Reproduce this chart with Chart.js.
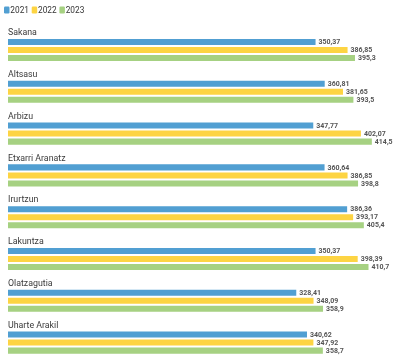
<!DOCTYPE html>
<html><head><meta charset="utf-8">
<script src="https://cdn.jsdelivr.net/npm/chart.js@4"></script>
<style>
html,body{margin:0;padding:0;background:#fff;overflow:hidden;width:403px;height:357px;}
#wrap{position:relative;width:403px;height:366px;}
</style></head>
<body><div id="wrap"><canvas id="c"></canvas></div>
<script>
const categories = ["Sakana","Altsasu","Arbizu","Etxarri Aranatz","Irurtzun","Lakuntza","Olatzagutia","Uharte Arakil"];
const seriesNames = ["2021","2022","2023"];
const values2021 = [350.37,360.81,347.77,360.64,386.36,350.37,328.41,340.62];
const values2022 = [386.85,381.65,402.07,386.85,393.17,398.39,348.09,347.92];
const values2023 = [395.3,393.5,414.5,398.8,405.4,410.7,358.9,358.7];
const colors = ["#519fd2","#fdd443","#a6d182"];
const FONT = "Roboto, 'Noto Sans', sans-serif";

const fmt = v => String(v).replace('.', ',');

const overlay = {
  id:'overlay',
  afterDatasetsDraw(chart){
    const ctx = chart.ctx;
    const ys = chart.scales.y;
    const xs = chart.scales.x;
    ctx.save();
    // category labels
    ctx.font = "8.8px " + FONT;
    ctx.fillStyle = "#3a3a3a";
    ctx.textAlign = "left";
    ctx.textBaseline = "middle";
    categories.forEach((c,i)=>{
      ctx.fillText(c, xs.left, ys.getPixelForValue(i) - 17);
    });
    // value labels
    ctx.font = "bold 7px " + FONT;
    ctx.fillStyle = "#555";
    chart.data.datasets.forEach((ds,di)=>{
      const meta = chart.getDatasetMeta(di);
      meta.data.forEach((bar,i)=>{
        ctx.fillText(fmt(ds.data[i]), bar.x + 3, bar.y + 0.5);
      });
    });
    // legend
    ctx.font = "8.3px " + FONT;
    seriesNames.forEach((n,i)=>{
      const x = 4 + i * 27.7;
      ctx.fillStyle = colors[i];
      ctx.beginPath();
      if (ctx.roundRect) ctx.roundRect(x, 6.5, 5.5, 7, 1.2); else ctx.rect(x,6.5,5.5,7);
      ctx.fill();
      ctx.fillStyle = "#333";
      ctx.fillText(n, x + 6.3, 10.5);
    });
    ctx.restore();
  }
};

new Chart(document.getElementById('c'), {
  type:'bar',
  data:{
    labels: categories,
    datasets:[
      {label:seriesNames[0], data:values2021, backgroundColor:colors[0]},
      {label:seriesNames[1], data:values2022, backgroundColor:colors[1]},
      {label:seriesNames[2], data:values2023, backgroundColor:colors[2]}
    ]
  },
  options:{
    indexAxis:'y',
    responsive:true,
    maintainAspectRatio:false,
    animation:false,
    devicePixelRatio:1,
    categoryPercentage:0.576,
    barPercentage:0.75,
    layout:{padding:{left:8,right:0,top:29.1,bottom:2.5}},
    plugins:{legend:{display:false},tooltip:{enabled:false}},
    scales:{
      x:{display:false,min:0,max:450},
      y:{display:false,offset:true}
    }
  },
  plugins:[overlay]
});
</script></body></html>
